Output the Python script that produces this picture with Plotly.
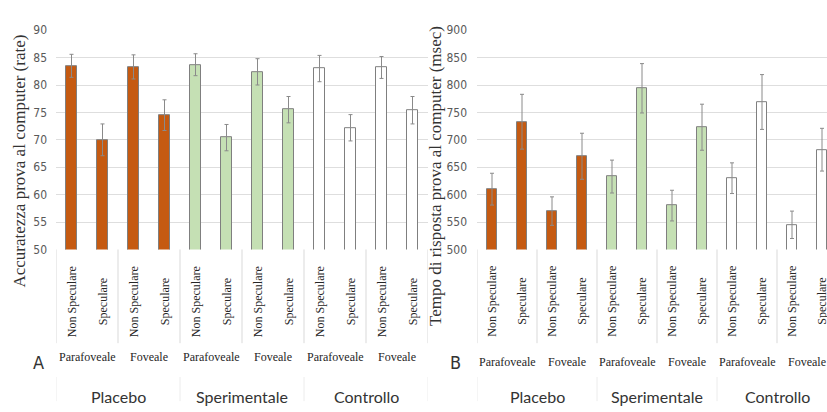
import plotly.graph_objects as go

# Experimental design: group > presentation > stimulus condition
groups = ["Placebo", "Sperimentale", "Controllo"]
positions = ["Parafoveale", "Foveale"]
conditions = ["Non Speculare", "Speculare"]

# Panel A: accuracy (rate), mean and standard error per cell
accuracy = [83.5, 70.0, 83.3, 74.5, 83.7, 70.4, 82.4, 75.5, 83.0, 72.2, 83.2, 75.4]
accuracy_err = [2.1, 2.9, 2.2, 2.8, 2.0, 2.4, 2.4, 2.4, 2.4, 2.4, 2.0, 2.5]

# Panel B: response time (msec), mean and standard error per cell
rt = [610, 733, 570, 670, 633, 794, 580, 723, 630, 769, 545, 682]
rt_err = [29, 50, 26, 42, 30, 45, 28, 42, 28, 50, 25, 39]

group_fill = {"Placebo": "#C55A11", "Sperimentale": "#C5E0B4", "Controllo": "#FFFFFF"}

W, H = 827, 412


def py(y):
    """Pixel row -> paper fraction."""
    return 1 - y / H


def px(x):
    return x / W


cells = [(g, p, c) for g in groups for p in positions for c in conditions]
idx = list(range(len(cells)))
colors = [group_fill[g] for g, _, _ in cells]

SERIF = "Liberation Serif, Times New Roman, serif"
NARROW = "Liberation Sans Narrow, DejaVu Sans Condensed, Arial Narrow, sans-serif"
SANS = "Lato, Open Sans, sans-serif"
GRID = "#dedede"

fig = go.Figure()

panels = [
    dict(x="x", y="y", vals=accuracy, err=accuracy_err),
    dict(x="x2", y="y2", vals=rt, err=rt_err),
]
for p in panels:
    fig.add_trace(go.Bar(
        x=idx, y=p["vals"], xaxis=p["x"], yaxis=p["y"],
        width=0.33,
        marker=dict(color=colors, line=dict(color="#7f7f7f", width=1)),
        error_y=dict(type="data", array=p["err"], visible=True,
                     color="#8a8a8a", thickness=1, width=2),
        showlegend=False, hoverinfo="skip",
    ))

y_dom = [py(251), py(24)]
n = len(cells)
fig.update_layout(
    width=W, height=H,
    margin=dict(l=0, r=0, t=0, b=0),
    paper_bgcolor="white", plot_bgcolor="white",
    bargap=0,
    xaxis=dict(domain=[px(56), px(428)], range=[-0.5, n - 0.5],
               showticklabels=False, showgrid=False, zeroline=False, ticks=""),
    yaxis=dict(domain=y_dom, range=[50, 90], dtick=5, tick0=50,
               showgrid=True, gridcolor=GRID, gridwidth=1, zeroline=False,
               showline=False, ticks="", ticklabelstandoff=8,
               tickfont=dict(family=NARROW, size=12, color="#595959")),
    xaxis2=dict(domain=[px(477), 1.0], range=[-0.5, -0.5 + (W - 477) / 30.0],
                showticklabels=False, showgrid=False, zeroline=False, ticks=""),
    yaxis2=dict(domain=y_dom, range=[500, 900], dtick=50, tick0=500, anchor="x2",
                showgrid=True, gridcolor=GRID, gridwidth=1, zeroline=False,
                showline=False, ticks="", ticklabelstandoff=9,
                tickfont=dict(family=NARROW, size=12, color="#595959")),
)

ann = []
shapes = []
panel_layout = [
    dict(xref="x", tier2_y=362, title="Accuratezza prova al computer (rate)",
         title_x=20, title_y=160, letter="A", letter_x=38),
    dict(xref="x2", tier2_y=367, title="Tempo di risposta prova al computer (msec)",
         title_x=435, title_y=175, letter="B", letter_x=455),
]

for pl in panel_layout:
    xr = pl["xref"]
    # innermost tier: stimulus condition, rotated
    for i, (_, _, c) in enumerate(cells):
        ann.append(dict(x=i, y=py(305), xref=xr, yref="paper", text=c,
                        textangle=-90, showarrow=False, xanchor="center", yanchor="middle",
                        font=dict(family=SERIF, size=12, color="#262626")))
    # middle tier: presentation position
    for k in range(len(groups) * len(positions)):
        ann.append(dict(x=2 * k + 0.5, y=py(pl["tier2_y"]), xref=xr, yref="paper",
                        text=positions[k % len(positions)], showarrow=False,
                        xanchor="center", yanchor="middle",
                        font=dict(family=SERIF, size=12, color="#262626")))
    # outer tier: treatment group
    span = len(positions) * len(conditions)
    for gi, g in enumerate(groups):
        ann.append(dict(x=gi * span + (span - 1) / 2, y=py(403), xref=xr, yref="paper",
                        text=g, showarrow=False, xanchor="center", yanchor="middle",
                        font=dict(family=SANS, size=16, color="#333333")))
    # category divider lines
    for k in range(len(groups) * len(positions) + 1):
        shapes.append(dict(type="line", xref=xr, yref="paper",
                           x0=2 * k - 0.5, x1=2 * k - 0.5, y0=py(251), y1=py(348),
                           line=dict(color="#d9d9d9", width=1)))
    for gi in range(len(groups) + 1):
        shapes.append(dict(type="line", xref=xr, yref="paper",
                           x0=gi * span - 0.5, x1=gi * span - 0.5, y0=py(383), y1=py(408),
                           line=dict(color="#ececec", width=1)))
    # axis title and panel letter
    ann.append(dict(x=px(pl["title_x"]), y=py(pl["title_y"]), xref="paper", yref="paper",
                    text=pl["title"], textangle=-90, showarrow=False,
                    xanchor="center", yanchor="middle",
                    font=dict(family=SERIF, size=17, color="#333333")))
    ann.append(dict(x=px(pl["letter_x"]), y=py(368), xref="paper", yref="paper",
                    text=pl["letter"], showarrow=False, xanchor="center", yanchor="middle",
                    font=dict(family=NARROW, size=18, color="#333333")))

fig.update_layout(annotations=ann, shapes=shapes)
fig.write_html("out.html")
